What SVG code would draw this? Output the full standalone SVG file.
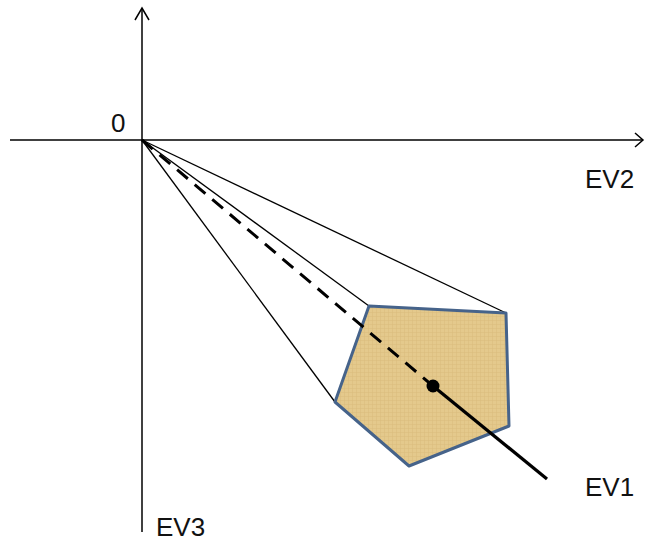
<svg xmlns="http://www.w3.org/2000/svg" width="647" height="543" viewBox="0 0 647 543">
<style>
.ax{stroke:#000;stroke-width:1.5;fill:none}
.thin{stroke:#000;stroke-width:1.3;fill:none}
.lbl{font-family:"Liberation Sans",Arial,sans-serif;font-size:26px;fill:#111}
</style>
<defs>
<pattern id="tex" width="4" height="4" patternUnits="userSpaceOnUse">
<rect width="4" height="4" fill="#E4C98C"/>
<path d="M0 0.5H4M0.5 0V4" stroke="#D4B574" stroke-width="0.6" opacity="0.6"/>
</pattern>
</defs>
<rect width="647" height="543" fill="#fff"/>
<g id="connectors">
<line class="ax" x1="10" y1="140" x2="643" y2="140"/>
<polyline class="ax" points="635,133 643,140 635,147"/>
<line class="ax" x1="142" y1="532" x2="142" y2="8"/>
<polyline class="ax" points="135,20 142,8 149,20"/>
<line class="thin" x1="142" y1="140" x2="369" y2="306"/>
<line class="thin" x1="142" y1="140" x2="506" y2="313"/>
<line class="thin" x1="142" y1="140" x2="335" y2="402"/>
</g>
<g id="pentagon">
<polygon points="369,306 506,313 509,426 409,466 335,402" fill="url(#tex)" stroke="#46638A" stroke-width="3" stroke-linejoin="round"/>
</g>
<g id="ev1">
<line x1="142" y1="140" x2="433" y2="386" stroke="#000" stroke-width="3" stroke-dasharray="14,9"/>
<line x1="433" y1="386" x2="547" y2="479" stroke="#000" stroke-width="3.2"/>
<circle cx="433" cy="386" r="6.5" fill="#000"/>
</g>
<g id="labels">
<text class="lbl" x="111" y="132">0</text>
<text class="lbl" x="585" y="188">EV2</text>
<text class="lbl" x="585" y="496">EV1</text>
<text class="lbl" x="156" y="536">EV3</text>
</g>
</svg>
